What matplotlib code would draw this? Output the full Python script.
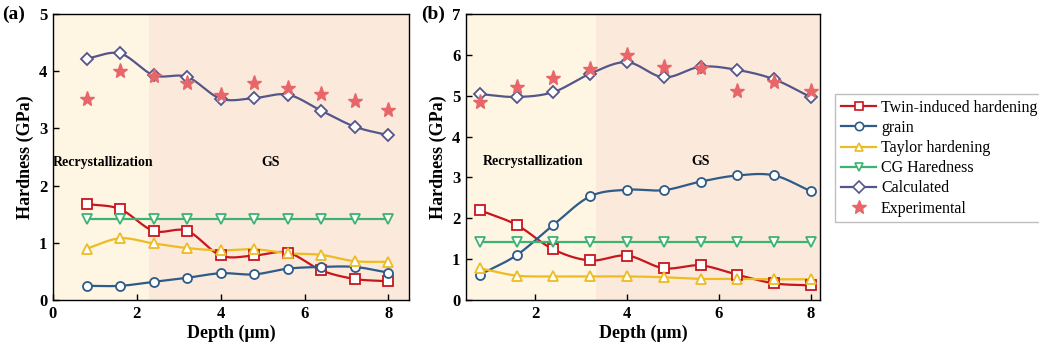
import numpy as np
import matplotlib
matplotlib.use('Agg')
import matplotlib.pyplot as plt
from matplotlib.lines import Line2D

plt.rcParams['font.family'] = ['Liberation Serif', 'DejaVu Serif']
plt.rcParams['mathtext.fontset'] = 'stix'

depth = [0.8, 1.6, 2.4, 3.2, 4.0, 4.8, 5.6, 6.4, 7.2, 8.0]

# panel (a)
a_twin = [1.68, 1.59, 1.21, 1.21, 0.78, 0.78, 0.83, 0.52, 0.37, 0.33]
a_grain = [0.25, 0.25, 0.32, 0.39, 0.47, 0.45, 0.55, 0.58, 0.58, 0.48]
a_taylor = [0.90, 1.08, 0.99, 0.91, 0.87, 0.89, 0.82, 0.79, 0.68, 0.67]
a_cg = [1.42] * 10
a_calc = [4.22, 4.31, 3.93, 3.90, 3.52, 3.53, 3.59, 3.31, 3.03, 2.88]
a_exp = [3.52, 4.00, 3.92, 3.80, 3.58, 3.79, 3.71, 3.60, 3.48, 3.33]

# panel (b)
b_twin = [2.20, 1.84, 1.24, 0.97, 1.09, 0.78, 0.85, 0.62, 0.41, 0.36]
b_grain = [0.62, 1.10, 1.84, 2.54, 2.70, 2.69, 2.90, 3.05, 3.05, 2.66]
b_taylor = [0.78, 0.60, 0.58, 0.58, 0.58, 0.56, 0.52, 0.52, 0.51, 0.51]
b_cg = [1.42] * 10
b_calc = [5.04, 4.97, 5.09, 5.54, 5.82, 5.45, 5.71, 5.63, 5.40, 4.96]
b_exp = [4.84, 5.21, 5.44, 5.66, 5.99, 5.71, 5.67, 5.12, 5.34, 5.12]

labels = ['Twin-induced hardening', 'grain', 'Taylor hardening',
          'CG Haredness', 'Calculated', 'Experimental']
colors = ['#C8161D', '#2E5B88', '#EDBB22', '#3CB371', '#54568A', '#E8666A']
markers = ['s', 'o', '^', 'v', 'D']


def smooth(x, y, n=40):
    # Catmull-Rom style cubic Hermite curve through the points
    x = np.asarray(x, float)
    y = np.asarray(y, float)
    m = np.zeros_like(y)
    m[1:-1] = (y[2:] - y[:-2]) / (x[2:] - x[:-2])
    m[0] = (y[1] - y[0]) / (x[1] - x[0])
    m[-1] = (y[-1] - y[-2]) / (x[-1] - x[-2])
    xs, ys = [], []
    for i in range(len(x) - 1):
        h = x[i + 1] - x[i]
        t = np.linspace(0, 1, n, endpoint=(i == len(x) - 2))
        h00 = 2 * t ** 3 - 3 * t ** 2 + 1
        h10 = t ** 3 - 2 * t ** 2 + t
        h01 = -2 * t ** 3 + 3 * t ** 2
        h11 = t ** 3 - t ** 2
        xs.append(x[i] + t * h)
        ys.append(h00 * y[i] + h10 * h * m[i] + h01 * y[i + 1] + h11 * h * m[i + 1])
    return np.concatenate(xs), np.concatenate(ys)


def draw(ax, series, exp, xlim, ylim, split, xticks):
    ax.axvspan(xlim[0], split, color='#FEF5E3', lw=0, zorder=0)
    ax.axvspan(split, xlim[1], color='#FBEADB', lw=0, zorder=0)
    for vals, c, mk in zip(series, colors, markers):
        xs, ys = smooth(depth, vals)
        ax.plot(xs, ys, color=c, lw=1.6, zorder=2)
        ax.plot(depth, vals, ls='none', marker=mk, ms=6.5 if mk != 'D' else 6,
                mfc='white', mec=c, mew=1.3, zorder=3)
    ax.plot(depth, exp, ls='none', marker='*', ms=11, color=colors[5],
            mec=colors[5], zorder=4)
    ax.set_xlim(*xlim)
    ax.set_ylim(*ylim)
    ax.set_xticks(xticks)
    ax.set_yticks(range(ylim[1] + 1))
    ax.tick_params(direction='in', length=4, width=1, labelsize=12, pad=4)
    for lab in ax.get_xticklabels() + ax.get_yticklabels():
        lab.set_fontweight('bold')
    ax.set_xlabel('Depth (μm)', fontsize=13, fontweight='bold', labelpad=2)
    ax.set_ylabel('Hardness (GPa)', fontsize=13, fontweight='bold', labelpad=4)
    for s in ax.spines.values():
        s.set_linewidth(1)


fig = plt.figure(figsize=(10.39, 3.49), dpi=100)
ax1 = fig.add_axes([0.051, 0.140, 0.343, 0.820])
ax2 = fig.add_axes([0.4485, 0.140, 0.341, 0.820])

draw(ax1, [a_twin, a_grain, a_taylor, a_cg, a_calc], a_exp,
     (0, 8.5), (0, 5), 2.28, [0, 2, 4, 6, 8])
ax1.text(0.0, 2.4, 'Recrystallization', fontsize=10, fontweight='bold',
         ha='left', va='center')
ax1.text(5.2, 2.4, 'GS', fontsize=10, fontweight='bold', ha='center', va='center')

draw(ax2, [b_twin, b_grain, b_taylor, b_cg, b_calc], b_exp,
     (0.5, 8.2), (0, 7), 3.33, [2, 4, 6, 8])
ax2.text(1.96, 3.39, 'Recrystallization', fontsize=10, fontweight='bold',
         ha='center', va='center')
ax2.text(5.6, 3.39, 'GS', fontsize=10, fontweight='bold', ha='center', va='center')

fig.text(0.002, 0.985, '(a)', fontsize=14, fontweight='bold', va='top', ha='left')
fig.text(0.405, 0.985, '(b)', fontsize=14, fontweight='bold', va='top', ha='left')

handles = [Line2D([], [], color=c, marker=mk, ms=6, mfc='white', mec=c, mew=1.2, lw=1.6)
           for c, mk in zip(colors[:5], markers)]
handles.append(Line2D([], [], ls='none', marker='*', ms=10, color=colors[5]))
fig.legend(handles, labels, loc='upper left', bbox_to_anchor=(0.804, 0.73),
           frameon=True, fancybox=False, edgecolor='#B0B0B0', fontsize=11.5,
           handlelength=2.2, handletextpad=0.3, labelspacing=0.26,
           borderpad=0.35, borderaxespad=0)

fig.savefig('out.png', dpi=100)
